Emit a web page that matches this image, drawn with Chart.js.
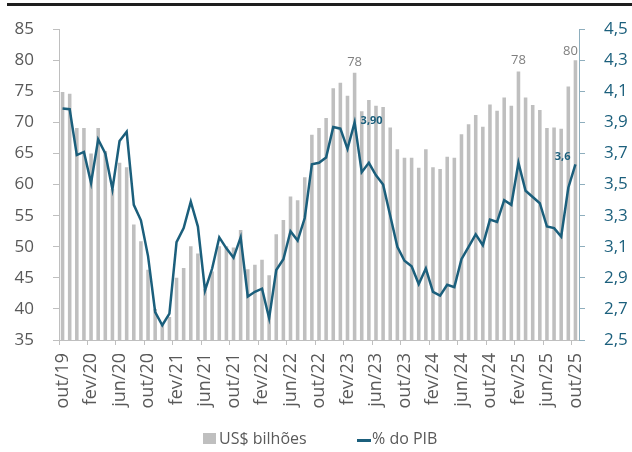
<!DOCTYPE html>
<html>
<head>
<meta charset="utf-8">
<script src="https://cdn.jsdelivr.net/npm/chart.js@4.4.1/dist/chart.umd.min.js"></script>
<style>
  html, body { margin: 0; padding: 0; background: #ffffff; }
  #wrap { position: relative; width: 632px; height: 452px; overflow: hidden; background: #fff; }
  #topbar { position: absolute; left: 7px; right: 0; top: 3px; height: 3px; background: #1e1e1e; }
  canvas { position: absolute; left: 0; top: 0; }
  .lg { position: absolute; font-family: 'Open Sans', sans-serif; font-size: 16px; line-height: 16px; color: #595959; white-space: nowrap; }
  .box { position: absolute; left: 203px; top: 433px; width: 13px; height: 11px; background: #bfbfbf; }
  .ln { position: absolute; left: 357px; top: 439px; width: 14px; height: 2.5px; background: #1b5f7c; }
</style>
</head>
<body>
<div id="wrap">
  <canvas id="c" width="632" height="452"></canvas>
  <div id="topbar"></div>
  <div class="box"></div><div class="lg" style="left:219px; top:430px;">US$ bilhões</div>
  <div class="ln"></div><div class="lg" style="left:372px; top:430px;">% do PIB</div>
</div>
<script>
// Categories (monthly, out/19 .. out/25)
const months = [
  'out/19','nov/19','dez/19',
  'jan/20','fev/20','mar/20','abr/20','mai/20','jun/20','jul/20','ago/20','set/20','out/20','nov/20','dez/20',
  'jan/21','fev/21','mar/21','abr/21','mai/21','jun/21','jul/21','ago/21','set/21','out/21','nov/21','dez/21',
  'jan/22','fev/22','mar/22','abr/22','mai/22','jun/22','jul/22','ago/22','set/22','out/22','nov/22','dez/22',
  'jan/23','fev/23','mar/23','abr/23','mai/23','jun/23','jul/23','ago/23','set/23','out/23','nov/23','dez/23',
  'jan/24','fev/24','mar/24','abr/24','mai/24','jun/24','jul/24','ago/24','set/24','out/24','nov/24','dez/24',
  'jan/25','fev/25','mar/25','abr/25','mai/25','jun/25','jul/25','ago/25','set/25','out/25'
];

// Series 1: US$ bilhões (bars, left axis)
const usdBillions = [
  74.9, 74.6, 69.1,
  69.1, 65.0, 69.1, 65.4, 59.3, 63.5, 62.8, 53.6, 50.9, 46.3, 40.0, 37.5,
  38.7, 45.0, 46.6, 50.1, 48.9, 43.2, 46.0, 50.1, 50.1, 49.9, 52.7, 46.4,
  47.1, 47.9, 45.4, 52.0, 54.3, 58.1, 57.5, 61.2, 68.0, 69.1, 70.7, 75.5,
  76.4, 74.3, 78.0, 71.8, 73.6, 72.7, 72.5, 69.2, 65.7, 64.3, 64.3, 62.7,
  65.7, 62.8, 62.5, 64.5, 64.3, 68.1, 69.7, 71.2, 69.3, 72.9, 71.9, 74.0,
  72.7, 78.2, 74.0, 72.8, 72.0, 69.1, 69.2, 69.0, 75.8, 80.0
];

// Series 2: % do PIB (line, right axis)
const pctGdp = [
  3.99, 3.985, 3.69,
  3.71, 3.51, 3.79, 3.70, 3.47, 3.78, 3.84, 3.37, 3.27, 3.04, 2.68, 2.595,
  2.67, 3.13, 3.22, 3.39, 3.23, 2.82, 2.96, 3.16, 3.09, 3.03, 3.16, 2.78,
  2.81, 2.83, 2.64, 2.95, 3.02, 3.20, 3.14, 3.285, 3.63, 3.64, 3.675, 3.87,
  3.86, 3.73, 3.90, 3.58, 3.64, 3.56, 3.50, 3.30, 3.10, 3.01, 2.975, 2.86,
  2.96, 2.81, 2.785, 2.855, 2.84, 3.02, 3.10, 3.18, 3.11, 3.275, 3.26, 3.40,
  3.37, 3.64, 3.46, 3.42, 3.38, 3.23, 3.22, 3.165, 3.48, 3.63
];

// Tick values
const leftTicks = [35, 40, 45, 50, 55, 60, 65, 70, 75, 80, 85];
const rightTicks = [2.5, 2.7, 2.9, 3.1, 3.3, 3.5, 3.7, 3.9, 4.1, 4.3, 4.5];

// Annotated points
const barLabels = [ {i: 41, text: '78'}, {i: 64, text: '78'}, {i: 72, text: '80'} ];
const lineLabels = [ {i: 41, text: '3,90'}, {i: 72, text: '3,6'} ];

const TEAL = '#1b5f7c';

const valueLabelPlugin = {
  id: 'valueLabels',
  afterDatasetsDraw(chart) {
    const ctx = chart.ctx;
    const barMeta = chart.getDatasetMeta(0);
    const lineMeta = chart.getDatasetMeta(1);
    ctx.save();
    ctx.font = "13px 'Open Sans'";
    ctx.fillStyle = '#7f7f7f';
    ctx.textAlign = 'center';
    ctx.textBaseline = 'alphabetic';
    barLabels.forEach(l => {
      const el = barMeta.data[l.i];
      const dx = (l.i === months.length - 1) ? -5 : 0;
      const dy = (l.i === months.length - 1) ? -5 : -7;
      ctx.fillText(l.text, el.x + dx, el.y + dy);
    });
    ctx.font = "bold 11px 'Open Sans'";
    ctx.fillStyle = TEAL;
    ctx.textBaseline = 'middle';
    lineLabels.forEach(l => {
      const el = lineMeta.data[l.i];
      if (l.i === months.length - 1) {
        ctx.textAlign = 'right';
        ctx.fillText(l.text, el.x - 5, el.y - 8);
      } else {
        ctx.textAlign = 'left';
        ctx.fillText(l.text, el.x + 6, el.y - 2);
      }
    });
    ctx.restore();
  }
};

const tickFont = { family: 'Open Sans', size: 17 };

new Chart(document.getElementById('c'), {
  data: {
    labels: months,
    datasets: [
      {
        type: 'bar', label: 'US$ bilhões', data: usdBillions,
        backgroundColor: '#bfbfbf', borderWidth: 0,
        barPercentage: 0.5, categoryPercentage: 1.0,
        yAxisID: 'y', order: 1
      },
      {
        type: 'line', label: '% do PIB', data: pctGdp,
        borderColor: TEAL, borderWidth: 2.5, pointRadius: 0, tension: 0,
        fill: false, yAxisID: 'y1', order: 0
      }
    ]
  },
  options: {
    responsive: false,
    animation: false,
    devicePixelRatio: 1,
    layout: { padding: { top: 24, left: 0, right: 0, bottom: 0 } },
    plugins: { legend: { display: false }, tooltip: { enabled: false } },
    scales: {
      x: {
        offset: true,
        grid: {
          offset: true, drawOnChartArea: false, drawTicks: true, tickLength: 5,
          color: c => (c.index % 4 === 0) ? '#bfbfbf' : 'rgba(0,0,0,0)'
        },
        border: { display: true, color: '#bfbfbf', width: 1 },
        ticks: {
          autoSkip: false, minRotation: 90, maxRotation: 90, padding: 8,
          color: '#595959', font: { family: 'Open Sans', size: 18 },
          callback: (v, i) => (i % 4 === 0) ? months[i] : ''
        },
        afterFit: s => { s.height = 112; }
      },
      y: {
        position: 'left', min: 35, max: 85,
        afterBuildTicks: s => { s.ticks = leftTicks.map(v => ({ value: v })); },
        grid: { drawOnChartArea: false, drawTicks: true, tickLength: 6, color: '#bfbfbf' },
        border: { display: true, color: '#bfbfbf', width: 1 },
        ticks: { padding: 19, color: '#595959', font: tickFont },
        afterFit: s => { s.width = 59; }
      },
      y1: {
        position: 'right', min: 2.5, max: 4.5,
        afterBuildTicks: s => { s.ticks = rightTicks.map(v => ({ value: v })); },
        grid: { drawOnChartArea: false, drawTicks: true, tickLength: 6, color: '#8eaebd' },
        border: { display: true, color: '#8eaebd', width: 1 },
        ticks: {
          padding: 19, color: TEAL, font: tickFont,
          callback: v => Number(v).toFixed(1).replace('.', ',')
        },
        afterFit: s => { s.width = 53; }
      }
    }
  },
  plugins: [valueLabelPlugin]
});
</script>
</body>
</html>
